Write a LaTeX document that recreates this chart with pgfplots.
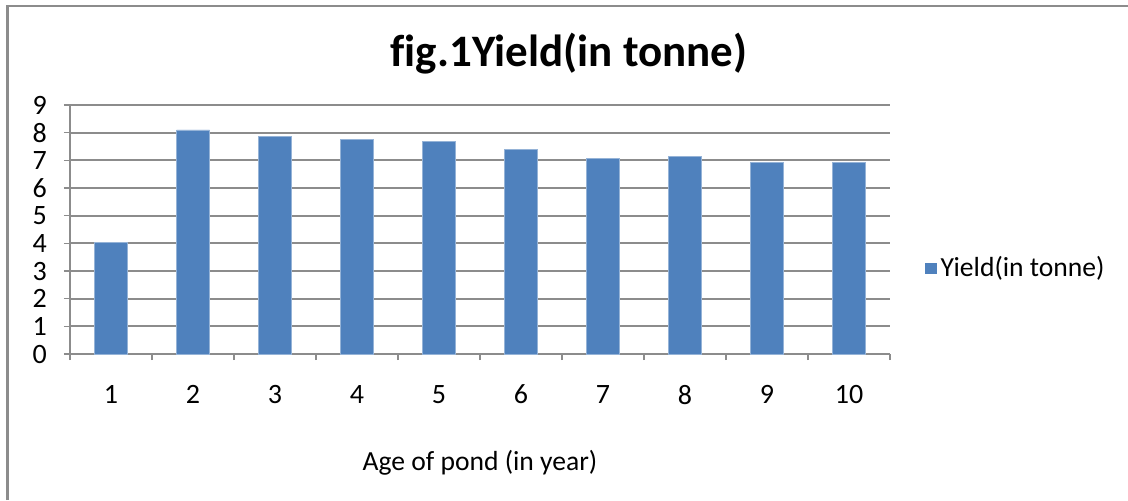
\documentclass[border=0pt]{standalone}
\usepackage{pgfplots}
\pgfplotsset{compat=1.18}
\usepackage{fontspec}
\setmainfont{Carlito}
\definecolor{barblue}{HTML}{4F81BD}
\definecolor{gridgray}{HTML}{8C8C8C}
\begin{document}
\begin{tikzpicture}
\useasboundingbox (0,0) rectangle (564pt,250pt);
\draw[gridgray, line width=1.3pt] (3.75pt,0) -- (3.75pt,247pt) -- (564pt,247pt);
\node[font=\fontsize{22.5}{26}\selectfont\bfseries] at (284.5pt,223pt) {f\kern0pt ig.1Yield(in tonne)};
\begin{axis}[
  at={(35pt,73pt)}, anchor=south west,
  scale only axis, width=410pt, height=124.5pt,
  xmin=0.5, xmax=10.5, ymin=0, ymax=9,
  xtick={1,...,10}, ytick={0,...,9},
  minor xtick={0.5,1.5,...,10.5},
  major x tick style={draw=none},
  tick align=outside,
  major tick length=3pt, minor tick length=3pt,
  every tick/.style={gridgray, line width=0.8pt},
  axis x line*=bottom, axis y line*=left,
  axis line style={gridgray, line width=1pt},
  ymajorgrids, grid style={gridgray, line width=0.9pt},
  /pgf/number format/assume math mode=true,
  tick label style={font=\fontsize{14}{16}\selectfont},
  xticklabel style={yshift=-9pt},
  yticklabel style={xshift=-5pt},
  xlabel={Age of pond (in year)},
  xlabel style={font=\fontsize{13.8}{16}\selectfont, yshift=-16pt},
  legend style={draw=none, at={(1,0.345)}, anchor=west, xshift=17.5pt,
    font=\fontsize{13.8}{16}\selectfont, inner sep=0pt},
  legend image code/.code={\fill[barblue] (0pt,-2.6pt) rectangle (5.2pt,2.6pt);},
]
\addplot[ybar, bar width=16.5pt, fill=barblue, draw=barblue!60!white, line width=0.4pt]
  coordinates {(1,4.03) (2,8.10) (3,7.87) (4,7.76) (5,7.69) (6,7.38) (7,7.08) (8,7.15) (9,6.94) (10,6.92)};
\addlegendentry{Yield(in tonne)}
\end{axis}
\end{tikzpicture}
\end{document}
